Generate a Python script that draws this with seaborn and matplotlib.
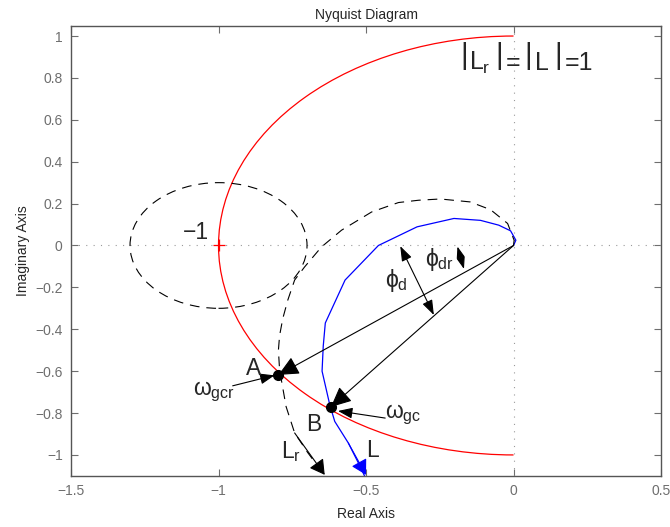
import numpy as np
import pandas as pd
import matplotlib
matplotlib.use("Agg")
import matplotlib.pyplot as plt
import seaborn as sns
from matplotlib.patches import Arc, Circle

# curve L (blue), traced from the origin down to the bottom edge
L_x = [0.0, 0.008, -0.01, -0.05, -0.112, -0.202, -0.327, -0.458, -0.571, -0.638,
       -0.645, -0.649, -0.623, -0.606, -0.56, -0.526, -0.505]
L_y = [0.0, 0.025, 0.07, 0.097, 0.12, 0.129, 0.089, 0.0, -0.165, -0.37,
       -0.48, -0.60, -0.76, -0.84, -0.943, -1.038, -1.1]

# curve L_r (dashed), traced from the origin down to the bottom edge
Lr_x = [0.0, 0.002, -0.02, -0.078, -0.147, -0.248, -0.322, -0.39, -0.481, -0.583,
        -0.651, -0.708, -0.742, -0.765, -0.782, -0.793, -0.797, -0.793, -0.771,
        -0.742, -0.697, -0.655]
Lr_y = [0.0, 0.025, 0.105, 0.171, 0.208, 0.222, 0.216, 0.205, 0.16, 0.073,
        -0.007, -0.102, -0.165, -0.26, -0.348, -0.43, -0.50, -0.594, -0.769,
        -0.895, -0.99, -1.07]

# unit circle |L|=1 (left half) and the circle around -1
unit_r = 1.0
crit_center = (-1.0, 0.0)
crit_r = 0.3

pt_A = (-0.797, -0.618)
pt_B = (-0.619, -0.771)

xticks = [-1.5, -1, -0.5, 0, 0.5]
xtick_labels = ["\u22121.5", "\u22121", "\u22120.5", "0", "0.5"]
yticks = [-1, -0.8, -0.6, -0.4, -0.2, 0, 0.2, 0.4, 0.6, 0.8, 1]
ytick_labels = ["\u22121", "\u22120.8", "\u22120.6", "\u22120.4", "\u22120.2", "0",
                "0.2", "0.4", "0.6", "0.8", "1"]

sns.set_style("ticks")
plt.rcParams['font.family'] = ['Liberation Sans', 'DejaVu Sans']
plt.rcParams['mathtext.fontset'] = 'custom'
plt.rcParams['mathtext.rm'] = 'Liberation Sans'
plt.rcParams['mathtext.it'] = 'Liberation Sans'
plt.rcParams['mathtext.bf'] = 'Liberation Sans'
plt.rcParams['mathtext.sf'] = 'Liberation Sans'
plt.rcParams['mathtext.fallback'] = 'stixsans'
plt.rcParams['lines.scale_dashes'] = False

fig = plt.figure(figsize=(6.7, 5.27), dpi=100)
ax = fig.add_axes([0.106, 0.097, 0.8806, 0.8545])

gray = '#6e6e6e'
dash = (7, 5)
# zero lines
ax.axhline(0, color='#9a9a9a', lw=0.8, dashes=(0.8, 4.5), zorder=1)
ax.axvline(0, color='#9a9a9a', lw=0.8, dashes=(0.8, 4.5), zorder=1)

ax.add_patch(Arc((0, 0), 2 * unit_r, 2 * unit_r, theta1=90, theta2=270,
                 color='red', lw=0.9, zorder=2))
ax.add_patch(Circle(crit_center, crit_r, fill=False, ec='k', lw=0.8,
                    linestyle=(0, dash), zorder=2))
ax.plot([crit_center[0]], [crit_center[1]], marker='+', color='red', ms=9, mew=0.9)

df_L = pd.DataFrame({'x': L_x, 'y': L_y})
df_Lr = pd.DataFrame({'x': Lr_x, 'y': Lr_y})
sns.lineplot(data=df_L, x='x', y='y', sort=False, estimator=None, errorbar=None,
             color='blue', lw=0.9, ax=ax)
sns.lineplot(data=df_Lr, x='x', y='y', sort=False, estimator=None, errorbar=None,
             color='k', lw=0.8, ax=ax)
ax.lines[-1].set_dashes(dash)


def arrow(p0, p1, style, ms, lw=0.8, color='k'):
    ann = ax.annotate('', xy=p1, xytext=p0,
                      arrowprops=dict(arrowstyle=style, color=color, lw=lw,
                                      mutation_scale=ms, shrinkA=0, shrinkB=0))
    ann.arrow_patch.set_clip_box(ax.bbox)
    ann.arrow_patch.set_clip_on(True)
    return ann


big = '-|>,head_length=0.6,head_width=0.28'
arrow((0, 0), pt_A, big, 21)
arrow((0, 0), pt_B, big, 21)
arrow((-0.952, -0.67), (-0.81, -0.62), '-|>,head_length=0.8,head_width=0.3', 11)
arrow((-0.435, -0.824), (-0.595, -0.79), '-|>,head_length=0.8,head_width=0.3', 11)
arrow((-0.384, -0.003), (-0.27, -0.332), '<|-|>,head_length=0.7,head_width=0.25', 13)
arrow((-0.19, -0.005), (-0.168, -0.112), '<|-|>,head_length=0.7,head_width=0.25', 10)
# direction markers at curve ends
arrow((Lr_x[-3], Lr_y[-3]), (-0.64, -1.095), '-|>,head_length=0.7,head_width=0.4', 13)
arrow((L_x[-3], L_y[-3]), (-0.5, -1.095), '-|>,head_length=0.7,head_width=0.4', 13,
      color='blue')

ax.plot(*pt_A, 'o', color='k', ms=7)
ax.plot(*pt_B, 'o', color='k', ms=7)

fs = 16.5
ax.text(-1.12, 0.03, '\u22121', fontsize=fs, ha='left', va='baseline')

# |L_r|=|L|=1 with tall bars
fs2 = 18
for bx in [-0.168, -0.049, 0.051, 0.153]:
    ax.text(bx, 0.867, '|', fontsize=21, ha='center', va='baseline')
ax.text(-0.150, 0.838, r'$L_r$', fontsize=fs2, ha='left', va='baseline')
ax.text(-0.027, 0.838, '=', fontsize=fs2, ha='left', va='baseline')
ax.text(0.0716, 0.838, 'L', fontsize=fs2, ha='left', va='baseline')
ax.text(0.175, 0.838, '=1', fontsize=fs2, ha='left', va='baseline')

ax.text(-0.436, -0.199, r'$\phi_d$', fontsize=fs, ha='left', va='baseline')
ax.text(-0.30, -0.10, r'$\phi_{dr}$', fontsize=fs, ha='left', va='baseline')
ax.text(-0.907, -0.618, 'A', fontsize=fs, ha='left', va='baseline')
ax.text(-0.702, -0.884, 'B', fontsize=fs, ha='left', va='baseline')
ax.text(-1.088, -0.713, r'$\omega_{gcr}$', fontsize=fs, ha='left', va='baseline')
ax.text(-0.436, -0.822, r'$\omega_{gc}$', fontsize=fs, ha='left', va='baseline')
ax.text(-0.788, -1.013, r'$L_r$', fontsize=fs, ha='left', va='baseline')
ax.text(-0.501, -1.008, 'L', fontsize=fs, ha='left', va='baseline')

ax.set_xlim(-1.5, 0.5)
ax.set_ylim(-1.1, 1.05)
ax.set_xticks(xticks)
ax.set_xticklabels(xtick_labels)
ax.set_yticks(yticks)
ax.set_yticklabels(ytick_labels)
ax.tick_params(direction='in', top=True, right=True, length=5, width=0.8,
               colors=gray, labelsize=10, pad=6)
for s in ax.spines.values():
    s.set_color('#555555')
    s.set_linewidth(1.0)
    s.set_visible(True)
ax.set_xlabel('Real Axis', fontsize=10, labelpad=6)
ax.set_ylabel('Imaginary Axis', fontsize=10, labelpad=4)
ax.set_title('Nyquist Diagram', fontsize=10, pad=5)

fig.savefig('out.png', dpi=100)
